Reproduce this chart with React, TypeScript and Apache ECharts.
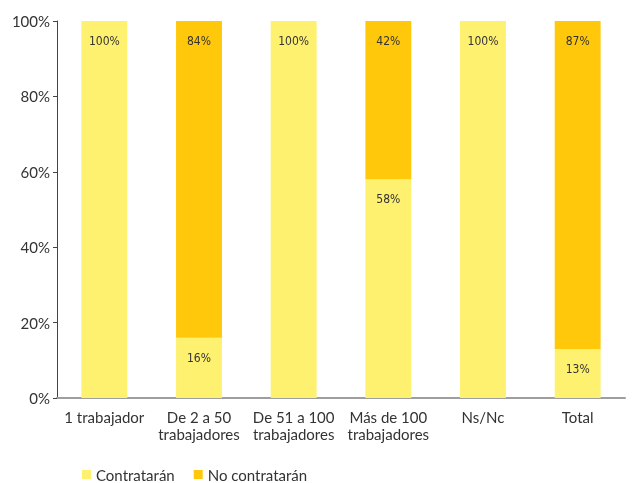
import React, { useEffect, useRef } from "react";
import * as echarts from "echarts";

const categories = ["1 trabajador", "De 2 a 50\ntrabajadores", "De 51 a 100\ntrabajadores", "Más de 100\ntrabajadores", "Ns/Nc", "Total"];
const contrataran = [100, 16, 100, 58, 100, 13];
const noContrataran = [0, 84, 0, 42, 0, 87];
const yTicks = [0, 20, 40, 60, 80, 100];

const FONT = "Lato, 'Open Sans', sans-serif";

export default function App() {
  const ref = useRef<HTMLDivElement>(null);
  useEffect(() => {
    const chart = echarts.init(ref.current!, null, { renderer: "svg" });
    const label = {
      show: true,
      position: "insideTop",
      distance: 14,
      fontFamily: "'Liberation Sans Narrow', 'DejaVu Sans Condensed', sans-serif",
      fontSize: 12,
      color: "#333",
      formatter: (p: any) => (p.value ? p.value + "%" : ""),
    };
    chart.setOption({
      animation: false,
      textStyle: { fontFamily: FONT },
      grid: { left: 57, right: 8, top: 21, bottom: 85 },
      legend: {
        left: 82,
        top: 467,
        padding: 0,
        itemWidth: 9,
        itemHeight: 9,
        itemGap: 19,
        icon: "rect",
        textStyle: { fontSize: 15, color: "#333", fontFamily: FONT },
        data: ["Contratarán", "No contratarán"],
      },
      xAxis: {
        type: "category",
        data: categories,
        axisLine: { lineStyle: { color: "#9e9e9e", width: 2 } },
        axisTick: { show: false },
        axisLabel: { fontSize: 15, color: "#333", lineHeight: 17, margin: 10, interval: 0 },
      },
      yAxis: {
        type: "value",
        min: 0,
        max: 100,
        interval: 20,
        splitLine: { show: false },
        axisLine: { show: true, lineStyle: { color: "#444", width: 1 } },
        axisTick: { show: true, length: 4, lineStyle: { color: "#444" } },
        axisLabel: {
          fontSize: 15,
          color: "#333",
          margin: 7,
          formatter: (v: number) => (yTicks.includes(v) ? v + "%" : ""),
        },
      },
      series: [
        {
          name: "Contratarán",
          type: "bar",
          stack: "a",
          barWidth: "48.5%",
          data: contrataran,
          itemStyle: { color: "#FFF170" },
          label,
        },
        {
          name: "No contratarán",
          type: "bar",
          stack: "a",
          data: noContrataran,
          itemStyle: { color: "#FFC80A" },
          label,
        },
      ],
    });
    return () => chart.dispose();
  }, []);
  return <div ref={ref} style={{ position: "fixed", left: 0, top: 0, width: 633, height: 483 }} />;
}
